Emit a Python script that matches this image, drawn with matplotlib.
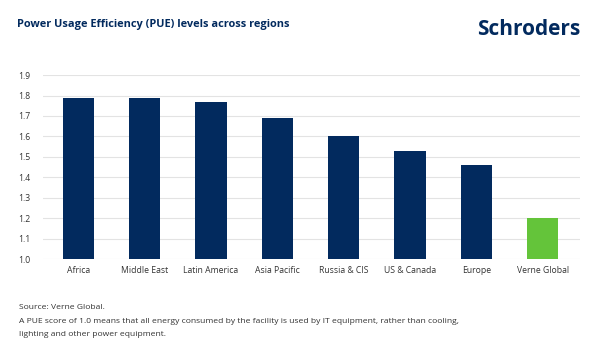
import matplotlib.pyplot as plt

plt.rcParams['font.family'] = ['Open Sans', 'DejaVu Sans']

regions = ['Africa', 'Middle East', 'Latin America', 'Asia Pacific',
           'Russia & CIS', 'US & Canada', 'Europe', 'Verne Global']
pue = [1.79, 1.79, 1.77, 1.69, 1.60, 1.53, 1.46, 1.20]
yticks = [1.0, 1.1, 1.2, 1.3, 1.4, 1.5, 1.6, 1.7, 1.8, 1.9]

navy = '#022a5e'
green = '#64c43a'
colours = [navy] * 7 + [green]

fig = plt.figure(figsize=(6, 3.54), dpi=100)
ax = fig.add_axes([0.0717, 0.268, 0.895, 0.52])

x = list(range(len(regions)))
ax.bar(x, [v - 1.0 for v in pue], bottom=1.0, width=0.47, color=colours, zorder=3)

ax.set_ylim(1.0, 1.9)
ax.set_xlim(-0.53, 7.56)
ax.set_yticks(yticks)
ax.set_yticklabels(['%.1f' % t for t in yticks])
ax.set_xticks(x)
ax.set_xticklabels(regions)
ax.grid(axis='y', color='#e3e3e3', linewidth=0.8, zorder=0)
ax.tick_params(length=0, labelsize=6.2, colors='#333333')
ax.tick_params(axis='y', pad=9)
ax.tick_params(axis='x', pad=5)
for s in ax.spines.values():
    s.set_visible(False)

fig.text(0.028, 0.932, 'Power Usage Efficiency (PUE) levels across regions',
         fontsize=7.9, fontweight='bold', color=navy, va='center')
fig.text(0.967, 0.918, 'Schroders', fontsize=15, fontweight='bold',
         color=navy, va='center', ha='right')

fig.text(0.031, 0.13, 'Source: Verne Global.', fontsize=6.1, color='#333333', va='center')
fig.text(0.031, 0.092, 'A PUE score of 1.0 means that all energy consumed by the facility is used by IT equipment, rather than cooling,',
         fontsize=6.1, color='#333333', va='center')
fig.text(0.031, 0.054, 'lighting and other power equipment.', fontsize=6.1, color='#333333', va='center')

fig.savefig('out.png', dpi=100, facecolor='white')
